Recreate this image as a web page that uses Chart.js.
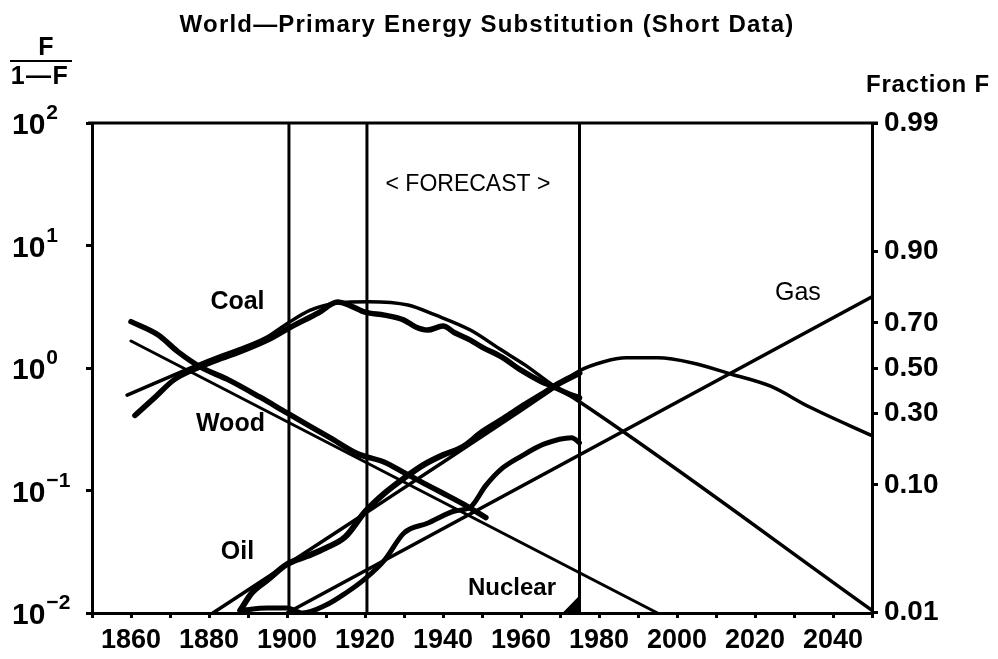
<!DOCTYPE html>
<html><head><meta charset="utf-8">
<script src="https://cdn.jsdelivr.net/npm/chart.js@4.4.1/dist/chart.umd.min.js"></script>
<style>html,body{margin:0;padding:0;background:#fff}#wrap{width:998px;height:659px;position:relative}</style>
</head><body><div id="wrap"><canvas id="c"></canvas></div>
<script>
// ---- text ----
const titleText = 'World\u2014Primary Energy Substitution (Short Data)';
const rightTitle = 'Fraction F';
const forecastText = '< FORECAST >';

// ---- ticks ----
const yearLabels = [1860, 1880, 1900, 1920, 1940, 1960, 1980, 2000, 2020, 2040];
const leftExponents = [2, 1, 0, -1, -2];
const fractionTicks = [0.01, 0.10, 0.30, 0.50, 0.70, 0.90, 0.99];
const markerYears = [1900.5, 1920.5, 1975];

// ---- series (F/(1-F)) ----
const woodDataYears  = [1860, 1867, 1872, 1878, 1885, 1893, 1900, 1911, 1918, 1925, 1930, 1935, 1940, 1946, 1951];
const woodDataValues = [2.39, 1.86, 1.36, 1.01, 0.80, 0.58, 0.43, 0.27, 0.20, 0.17, 0.14, 0.115, 0.095, 0.075, 0.06];
const woodModelYears  = [1860, 1995];
const woodModelValues = [1.66, 0.0100];

const coalDataYears  = [1861, 1866, 1871, 1877, 1882, 1887, 1895, 1901, 1908, 1913, 1916, 1920, 1925, 1930, 1933, 1936, 1940, 1943, 1947, 1950, 1955, 1960, 1965, 1968, 1972, 1975];
const coalDataValues = [0.41, 0.57, 0.80, 1.00, 1.16, 1.32, 1.69, 2.16, 2.81, 3.45, 3.25, 2.86, 2.7, 2.46, 2.16, 2.04, 2.2, 1.94, 1.69, 1.48, 1.23, 0.96, 0.78, 0.71, 0.62, 0.57];
const coalModelYears  = [1859, 1880, 1895, 1900, 1906, 1913, 1921, 1931, 1938, 1947, 1955, 1961, 1968, 1975, 2050];
const coalModelValues = [0.60, 1.16, 1.80, 2.30, 2.97, 3.40, 3.48, 3.27, 2.71, 2.04, 1.40, 1.06, 0.73, 0.53, 0.0105];

const oilDataYears  = [1888, 1891, 1895, 1900, 1905, 1910, 1915, 1920, 1925, 1930, 1935, 1940, 1945, 1950, 1955, 1960, 1965, 1970, 1975];
const oilDataValues = [0.0105, 0.0146, 0.0186, 0.025, 0.029, 0.034, 0.042, 0.067, 0.095, 0.126, 0.162, 0.195, 0.226, 0.30, 0.377, 0.48, 0.60, 0.755, 0.91];
const oilModelYears  = [1881, 1920, 1940, 1960, 1970, 1975, 1981, 1987, 1995, 2004, 2014, 2024, 2034, 2050];
const oilModelValues = [0.0100, 0.065, 0.17, 0.45, 0.74, 0.95, 1.12, 1.21, 1.21, 1.10, 0.89, 0.71, 0.48, 0.28];

const gasDataYears  = [1888, 1895, 1900, 1904, 1910, 1915, 1920, 1925, 1930, 1936, 1943, 1947, 1951, 1955, 1960, 1966, 1973, 1975];
const gasDataValues = [0.0105, 0.011, 0.011, 0.0100, 0.0116, 0.0145, 0.019, 0.027, 0.045, 0.054, 0.068, 0.073, 0.11, 0.15, 0.19, 0.24, 0.27, 0.245];
const gasModelYears  = [1900, 2050];
const gasModelValues = [0.0100, 3.82];

const nuclearYears  = [1971, 1975];
const nuclearValues = [0.0100, 0.0135];

// ---- labels placed in data coordinates ----
const seriesLabels = ['Coal', 'Wood', 'Oil', 'Nuclear', 'Gas'];

const Y_MIN = 0.01, Y_MAX = 100;

function pts(xs, ys) { return xs.map((x, i) => ({ x: x, y: ys[i] })); }
function line(xs, ys, w, smooth) {
  return {
    data: pts(xs, ys), borderColor: '#000', borderWidth: w, pointRadius: 0,
    showLine: true, fill: false, tension: smooth ? 0.4 : 0,
    cubicInterpolationMode: smooth ? 'monotone' : 'default',
    borderCapStyle: 'round', borderJoinStyle: 'round', yAxisID: 'y'
  };
}

const datasets = [];
markerYears.forEach(yr => datasets.push(line([yr, yr], [Y_MIN, Y_MAX], 3, false)));
datasets.push(line(woodModelYears, woodModelValues, 3, false));
datasets.push(line(gasModelYears, gasModelValues, 3.5, false));
datasets.push(line(coalModelYears, coalModelValues, 3.5, true));
datasets.push(line(oilModelYears, oilModelValues, 3.5, true));
datasets.push(line(woodDataYears, woodDataValues, 5.5, true));
datasets.push(line(coalDataYears, coalDataValues, 5.5, true));
datasets.push(line(oilDataYears, oilDataValues, 6, true));
datasets.push(line(gasDataYears, gasDataValues, 5, true));
const nuc = line(nuclearYears, nuclearValues, 2, false);
nuc.fill = 'start'; nuc.backgroundColor = '#000';
datasets.push(nuc);

const FONT = "'Liberation Sans', Arial, sans-serif";

const decor = {
  id: 'decor',
  afterDraw(chart) {
    const ctx = chart.ctx, a = chart.chartArea;
    const xs = chart.scales.x, ys = chart.scales.y;
    ctx.save();
    ctx.fillStyle = '#000'; ctx.strokeStyle = '#000';
    // top frame line
    ctx.lineWidth = 3;
    ctx.beginPath(); ctx.moveTo(a.left - 4, a.top); ctx.lineTo(a.right + 6, a.top); ctx.stroke();
    // title
    ctx.font = 'bold 24px ' + FONT;
    ctx.textAlign = 'center'; ctx.textBaseline = 'alphabetic';
    ctx.letterSpacing = '1.2px';
    ctx.fillText(titleText, 487, 32);
    // right title
    ctx.font = 'bold 24px ' + FONT;
    ctx.textAlign = 'right';
    ctx.letterSpacing = '0.8px';
    ctx.fillText(rightTitle, 990, 92);
    // left F/(1-F)
    ctx.font = 'bold 25px ' + FONT;
    ctx.textAlign = 'center';
    ctx.letterSpacing = '0px';
    ctx.fillText('F', 46, 55);
    ctx.lineWidth = 2;
    ctx.beginPath(); ctx.moveTo(10, 61); ctx.lineTo(72, 61); ctx.stroke();
    ctx.letterSpacing = '1.5px';
    ctx.fillText('1\u2014F', 40, 84);
    ctx.letterSpacing = '0px';
    // left tick labels with superscripts
    leftExponents.forEach(e => {
      const y = ys.getPixelForValue(Math.pow(10, e));
      ctx.textAlign = 'left';
      ctx.font = 'bold 30px ' + FONT;
      ctx.fillText('10', 12, y + 11);
      const w = ctx.measureText('10').width;
      ctx.font = 'bold 21px ' + FONT;
      const sup = (e < 0 ? '\u2212' : '') + Math.abs(e);
      ctx.fillText(sup, 12 + w + 1, y - 4);
    });
    // series labels
    const lab = [
      { t: seriesLabels[0], x: 1887.3, y: 3.46, f: 'bold 25px ' },
      { t: seriesLabels[1], x: 1885.5, y: 0.35, f: 'bold 25px ' },
      { t: seriesLabels[2], x: 1887.3, y: 0.0315, f: 'bold 25px ' },
      { t: seriesLabels[3], x: 1957.7, y: 0.016, f: 'bold 24px ' },
      { t: seriesLabels[4], x: 2031, y: 4.1, f: '25px ' },
      { t: forecastText, x: 1946.4, y: 31.2, f: '23px ' }
    ];
    ctx.textAlign = 'center'; ctx.textBaseline = 'middle';
    lab.forEach(l => {
      ctx.font = l.f + FONT;
      ctx.fillText(l.t, xs.getPixelForValue(l.x), ys.getPixelForValue(l.y));
    });
    ctx.restore();
  }
};

new Chart(document.getElementById('c'), {
  type: 'scatter',
  data: { datasets: datasets },
  options: {
    responsive: true, maintainAspectRatio: false, animation: false, devicePixelRatio: 1,
    layout: { padding: { top: 123, left: 0, right: 0, bottom: 0 } },
    plugins: { legend: { display: false }, tooltip: { enabled: false }, title: { display: false } },
    scales: {
      x: {
        type: 'linear', position: 'bottom', min: 1850, max: 2050,
        afterFit: s => { s.height = 46; },
        afterBuildTicks: s => { const t = []; for (let v = 1850; v <= 2050; v += 10) t.push({ value: v }); s.ticks = t; },
        ticks: {
          autoSkip: false, maxRotation: 0, color: '#000', padding: 6,
          font: { family: FONT, size: 27, weight: 'bold' },
          callback: v => yearLabels.includes(v) ? String(v) : ''
        },
        grid: { drawOnChartArea: false, color: '#000', lineWidth: 3, tickLength: 5 },
        border: { display: true, color: '#000', width: 3 }
      },
      y: {
        type: 'logarithmic', position: 'left', min: Y_MIN, max: Y_MAX,
        afterFit: s => { s.width = 92; },
        afterBuildTicks: s => { s.ticks = leftExponents.map(e => ({ value: Math.pow(10, e) })); },
        ticks: { autoSkip: false, callback: () => '' },
        grid: { drawOnChartArea: false, color: '#000', lineWidth: 3, tickLength: 6 },
        border: { display: true, color: '#000', width: 3 }
      },
      yR: {
        type: 'logarithmic', position: 'right', min: Y_MIN, max: Y_MAX,
        afterFit: s => { s.width = 126; },
        afterBuildTicks: s => { s.ticks = fractionTicks.map(f => ({ value: f / (1 - f) })); },
        ticks: {
          autoSkip: false, color: '#000', padding: 6,
          font: { family: FONT, size: 28, weight: 'bold' },
          callback: v => (v / (1 + v)).toFixed(2)
        },
        grid: { drawOnChartArea: false, color: '#000', lineWidth: 3, tickLength: 6 },
        border: { display: true, color: '#000', width: 3 }
      }
    }
  },
  plugins: [decor]
});
</script></body></html>
